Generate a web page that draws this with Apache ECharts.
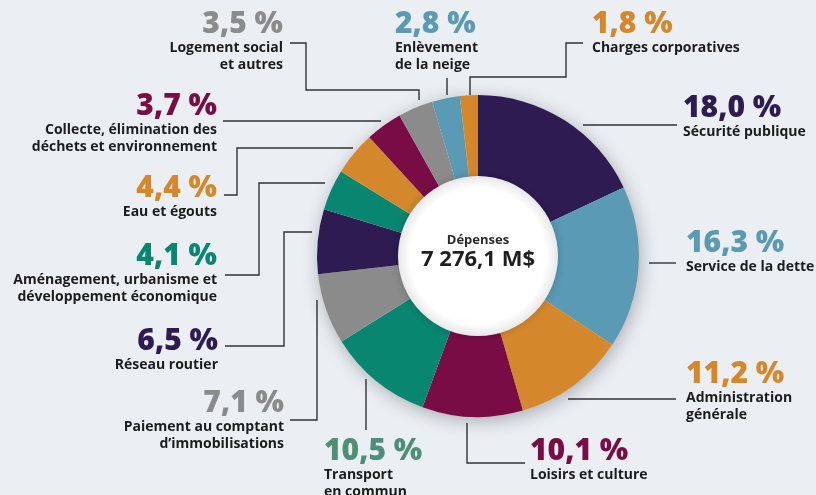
<!DOCTYPE html>
<html lang="fr">
<head>
    <meta charset="UTF-8">
    <title>Dépenses</title>
    <script src="https://cdn.jsdelivr.net/npm/echarts@6/dist/echarts.min.js"></script>
    <style>
        body {
            margin: 0;
            background: #ebeef3;
        }
        #main {
            width: 816px;
            height: 495px;
        }
    </style>
</head>
<body>
<div id="main"></div>

<script>
    // données (en %), dans l'ordre horaire depuis midi
    var categories = [
        'Sécurité publique',
        'Service de la dette',
        'Administration\ngénérale',
        'Loisirs et culture',
        'Transport\nen commun',
        'Paiement au comptant\nd’immobilisations',
        'Réseau routier',
        'Aménagement, urbanisme et\ndéveloppement économique',
        'Eau et égouts',
        'Collecte, élimination des\ndéchets et environnement',
        'Logement social\net autres',
        'Enlèvement\nde la neige',
        'Charges corporatives'
    ];
    var shares = [18.0, 16.3, 11.2, 10.1, 10.5, 7.1, 6.5, 4.1, 4.4, 3.7, 3.5, 2.8, 1.8];
    var totalTitle = 'Dépenses';
    var totalValue = '7 276,1 M$';

    // couleurs
    var purple = '#2e1b52', blue = '#5a9ab5', orange = '#d5882b',
        magenta = '#790c44', teal = '#08866f', gray = '#8b8b8c';
    var sliceColors = [purple, blue, orange, magenta, teal, gray, purple, teal, orange, magenta, gray, blue, orange];
    var pctColors = sliceColors.slice();
    pctColors[4] = '#4e8f79';

    // emplacement des étiquettes et tracé des traits de rappel (pixels)
    var spots = [
        {x: 683, y: 92, align: 'left', line: [[677, 125], [583, 125]]},
        {x: 686, y: 227, align: 'left', line: [[676, 263], [649, 263]]},
        {x: 686, y: 358, align: 'left', line: [[676, 399], [568, 399]]},
        {x: 530, y: 435, align: 'left', line: [[525, 463], [467, 463], [467, 423]]},
        {x: 324, y: 435, align: 'left', line: [[366, 430], [366, 379]]},
        {x: 284, y: 387, align: 'right', line: [[290, 420], [317, 420], [317, 300]]},
        {x: 218, y: 325, align: 'right', line: [[225, 346], [284, 346], [284, 232], [312, 232]]},
        {x: 217, y: 240, align: 'right', line: [[225, 275], [259, 275], [259, 183], [325, 183]]},
        {x: 217, y: 172, align: 'right', line: [[224, 195], [237, 195], [237, 148], [353, 148]]},
        {x: 217, y: 90, align: 'right', line: [[223, 121], [381, 121]]},
        {x: 283, y: 8, align: 'right', line: [[290, 43], [306, 43], [306, 90], [419, 90], [419, 100]]},
        {x: 395, y: 8, align: 'left', line: [[447, 78], [447, 95]]},
        {x: 592, y: 8, align: 'left', line: [[583, 43], [566, 43], [566, 77], [470, 77], [470, 95]]}
    ];

    var font = '"Open Sans", "Noto Sans", sans-serif';
    var center = [478, 256];

    function fmt(v) {
        return v.toFixed(1).replace('.', ',');
    }

    var pieData = categories.map(function (name, i) {
        return {
            name: name,
            value: shares[i],
            itemStyle: {color: sliceColors[i]},
            label: {color: pctColors[i]}
        };
    });

    var chart = echarts.init(document.getElementById('main'));

    chart.setOption({
        backgroundColor: '#ebeef3',
        animation: false,
        series: [
            // ombre sous l'anneau
            {
                type: 'pie',
                silent: true,
                center: center,
                radius: [70, 161],
                label: {show: false},
                labelLine: {show: false},
                itemStyle: {
                    color: '#ebeef3',
                    shadowBlur: 18,
                    shadowColor: 'rgba(0, 0, 0, 0.28)',
                    shadowOffsetX: 2,
                    shadowOffsetY: 4
                },
                data: [{value: 1, name: 'ombre'}]
            },
            {
                type: 'pie',
                center: center,
                radius: [70, 161],
                startAngle: 90,
                clockwise: true,
                avoidLabelOverlap: false,
                label: {
                    show: true,
                    position: 'outside',
                    fontFamily: font,
                    formatter: function (p) {
                        return '{p|' + fmt(p.value) + ' %}\n{n|' + p.name + '}';
                    },
                    rich: {
                        p: {fontSize: 30, fontWeight: 800, lineHeight: 32, fontFamily: font},
                        n: {fontSize: 14, fontWeight: 'bold', lineHeight: 17, color: '#1c1c1c', fontFamily: font}
                    }
                },
                labelLine: {
                    show: true,
                    lineStyle: {color: '#333333', width: 1.4}
                },
                labelLayout: function (p) {
                    var s = spots[p.dataIndex];
                    return {
                        x: s.x,
                        y: s.y,
                        align: s.align,
                        verticalAlign: 'top',
                        labelLinePoints: s.line
                    };
                },
                data: pieData
            },
            // disque blanc central
            {
                type: 'pie',
                silent: true,
                center: center,
                radius: [0, 80],
                labelLine: {show: false},
                itemStyle: {
                    color: {
                        type: 'radial', x: 0.5, y: 0.5, r: 0.5,
                        colorStops: [
                            {offset: 0, color: '#ffffff'},
                            {offset: 0.85, color: '#ffffff'},
                            {offset: 1, color: '#e8e8ea'}
                        ]
                    },
                    shadowBlur: 8,
                    shadowColor: 'rgba(0, 0, 0, 0.2)'
                },
                label: {
                    show: true,
                    position: 'center',
                    padding: [0, 0, 8, 0],
                    formatter: '{a|' + totalTitle + '}\n{b|' + totalValue + '}',
                    rich: {
                        a: {fontSize: 13, fontWeight: 'bold', lineHeight: 16, color: '#2b2b2b', fontFamily: font},
                        b: {fontSize: 22, fontWeight: 'bold', lineHeight: 24, color: '#1f1f1f', fontFamily: font}
                    }
                },
                data: [{value: 1, name: 'total'}]
            }
        ]
    });
</script>
</body>
</html>
